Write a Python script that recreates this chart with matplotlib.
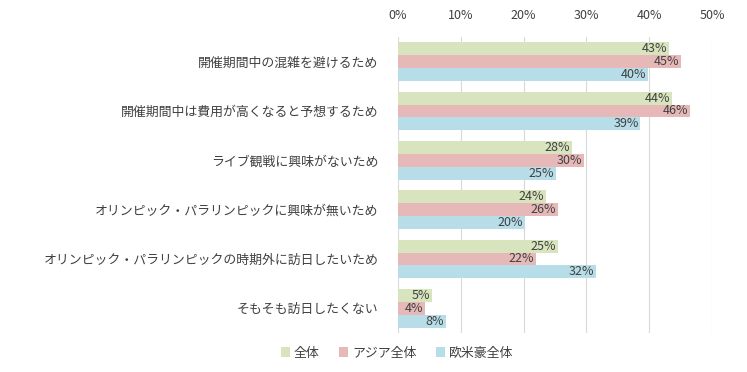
import matplotlib
matplotlib.use("Agg")
import matplotlib.pyplot as plt
import numpy as np

plt.rcParams['font.family'] = ['Noto Sans CJK JP', 'DejaVu Sans']

categories = [
    "開催期間中の混雑を避けるため",
    "開催期間中は費用が高くなると予想するため",
    "ライブ観戦に興味がないため",
    "オリンピック・パラリンピックに興味が無いため",
    "オリンピック・パラリンピックの時期外に訪日したいため",
    "そもそも訪日したくない",
]
series_names = ["全体", "アジア全体", "欧米豪全体"]
zentai = [43.2, 43.6, 27.7, 23.6, 25.4, 5.4]
asia = [45.1, 46.5, 29.6, 25.5, 22.0, 4.3]
obeigo = [39.8, 38.6, 25.2, 20.2, 31.6, 7.6]
label_zentai = ["43%", "44%", "28%", "24%", "25%", "5%"]
label_asia = ["45%", "46%", "30%", "26%", "22%", "4%"]
label_obeigo = ["40%", "39%", "25%", "20%", "32%", "8%"]
xticks = [0, 10, 20, 30, 40, 50]
xtick_labels = ["0%", "10%", "20%", "30%", "40%", "50%"]

colors = ["#d7e4bd", "#e6b9b8", "#b7dde8"]

fig = plt.figure(figsize=(7.47, 3.72), dpi=100)
ax = fig.add_axes([398/747, 1-333/372, (712-398)/747, (333-37)/372])

n = len(categories)
y = np.arange(n)
h = 0.26
data = [zentai, asia, obeigo]
labels = [label_zentai, label_asia, label_obeigo]
for i, (vals, labs, c, name) in enumerate(zip(data, labels, colors, series_names)):
    pos = y + (i - 1) * h
    bars = ax.barh(pos, vals, height=h, color=c, label=name, zorder=2)
    for b, v, lab in zip(bars, vals, labs):
        ax.text(v - 0.3, b.get_y() + b.get_height()/2, lab, ha='right', va='center',
                fontsize=9, color='#404040', zorder=3)

ax.set_ylim(n - 0.5, -0.5)
ax.set_xlim(0, 50)
ax.set_xticks(xticks)
ax.set_xticklabels(xtick_labels, fontsize=9, color='#404040')
ax.xaxis.tick_top()
ax.tick_params(axis='x', length=0, pad=11)
ax.set_yticks(y)
ax.set_yticklabels(categories, fontsize=9.3, color='#404040')
ax.tick_params(axis='y', length=0, pad=14)
ax.grid(axis='x', color='#d9d9d9', linewidth=0.8, zorder=0)
for s in ax.spines.values():
    s.set_visible(False)

handles, lbls = ax.get_legend_handles_labels()
fig.legend(handles, lbls, loc='center', bbox_to_anchor=(397/747, 1-353/372), ncol=3,
           frameon=False, fontsize=9.3, handlelength=0.7, handleheight=0.7,
           handletextpad=0.3, columnspacing=1.5, labelcolor='#404040')

fig.savefig("out.png", dpi=100, facecolor='white')
